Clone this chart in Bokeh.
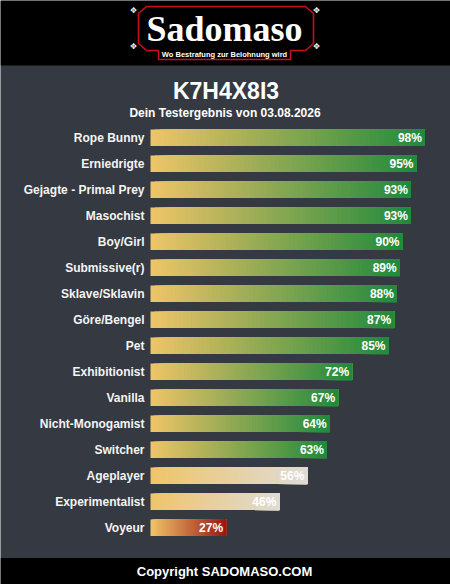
from bokeh.plotting import figure
from bokeh.models import Range1d, ColumnDataSource
from bokeh.core.properties import value
from bokeh.embed import file_html
from bokeh.resources import INLINE

# ---- data ----
categories = ["Rope Bunny", "Erniedrigte", "Gejagte - Primal Prey", "Masochist",
              "Boy/Girl", "Submissive(r)", "Sklave/Sklavin", "Göre/Bengel", "Pet",
              "Exhibitionist", "Vanilla", "Nicht-Monogamist", "Switcher",
              "Ageplayer", "Experimentalist", "Voyeur"]
scores = [98, 95, 93, 93, 90, 89, 88, 87, 85, 72, 67, 64, 63, 56, 46, 27]
title_text = "K7H4X8I3"
subtitle_text = "Dein Testergebnis von 03.08.2026"
logo_text = "Sadomaso"
logo_sub = "Wo Bestrafung zur Belohnung wird"
footer_text = "Copyright SADOMASO.COM"

# ---- layout ----
W, H = 450, 584
BG = "#353941"
FONT = value("Liberation Sans")

p = figure(width=W, height=H, x_range=Range1d(0, W), y_range=Range1d(H, 0),
           x_axis_type=None, y_axis_type=None, output_backend="svg",
           toolbar_location=None, min_border=0)
p.grid.visible = False
p.outline_line_color = None
p.background_fill_color = BG
p.border_fill_color = BG

PX_PER_PCT = 2.8
X0 = 150
p.extra_x_ranges = {"pct": Range1d(-X0 / PX_PER_PCT, (W - X0) / PX_PER_PCT)}
ROW = 26.0
Y0 = 137.3
p.extra_y_ranges = {"idx": Range1d((H - Y0) / ROW, -Y0 / ROW)}

# header & footer bands
p.quad(left=0, right=W, top=0, bottom=65, fill_color="black", line_color=None)
p.quad(left=0, right=W, top=557.5, bottom=H, fill_color="black", line_color=None)

# logo frame
fx = [138, 146, 305, 313, 313, 305, 290, 290, 158, 158, 146, 138, 138]
fy = [13, 6, 6, 13, 43, 50, 50, 59, 59, 50, 50, 43, 13]
p.line(x=fx, y=fy, line_color="#c8101c", line_width=1.6)
p.text(x=[224], y=[28], text=[logo_text], text_font=value("Liberation Serif"),
       text_font_style="bold", text_font_size="36px", text_color="white",
       text_align="center", text_baseline="middle")
p.text(x=[224], y=[53.5], text=[logo_sub], text_font=FONT,
       text_font_style="bold", text_font_size="7.5px", text_color="white",
       text_align="center", text_baseline="middle")
p.text(x=[133, 316, 133, 316], y=[10, 10, 46, 46], text=["✥"] * 4,
       text_font=value("DejaVu Sans"), text_font_size="8px", text_color="white",
       text_align="center", text_baseline="middle")

# titles
p.text(x=[225.5], y=[90], text=[title_text], text_font=FONT, text_font_style="bold",
       text_font_size="23px", text_color="white", text_align="center", text_baseline="middle")
p.text(x=[224.5], y=[112], text=[subtitle_text], text_font=FONT, text_font_style="bold",
       text_font_size="12px", text_color="white", text_align="center", text_baseline="middle")

# gradient bars (each slice runs to the bar end; later slices cover earlier ones)
START = (240, 196, 104)
def end_color(s):
    if s >= 60:
        return (31, 138, 60)
    if s >= 40:
        return (222, 220, 214)
    return (154, 22, 18)

N = 60
L, R, T, B, C = [], [], [], [], []
for i, s in enumerate(scores):
    ec = end_color(s)
    for j in range(N):
        f = (j + 0.5) / N
        col = tuple(int(round(START[k] + (ec[k] - START[k]) * f)) for k in range(3))
        L.append(s * j / N)
        R.append(s)
        T.append(i - 0.32)
        B.append(i + 0.32)
        C.append("#%02x%02x%02x" % col)
src = ColumnDataSource(dict(left=L, right=R, top=T, bottom=B, color=C))
p.quad(left="left", right="right", top="top", bottom="bottom", fill_color="color",
       line_color=None, source=src, x_range_name="pct", y_range_name="idx")

idx = list(range(len(categories)))
lab = ColumnDataSource(dict(y=idx, cat=categories, s=scores,
                            pct=["%d%%" % s for s in scores]))
p.text(x=144, y="y", text="cat", source=lab, y_range_name="idx", text_font=FONT,
       text_font_style="bold", text_font_size="12px", text_color="#f4f4f4",
       text_align="right", text_baseline="middle")
p.text(x="s", y="y", text="pct", source=lab, x_range_name="pct", y_range_name="idx",
       x_offset=-3, text_font=FONT, text_font_style="bold", text_font_size="12px",
       text_color="white", text_align="right", text_baseline="middle")

# footer
p.text(x=[224], y=[571], text=[footer_text], text_font=FONT, text_font_style="bold",
       text_font_size="13px", text_color="white", text_align="center", text_baseline="middle")

open("out.html", "w").write(file_html(p, INLINE))
